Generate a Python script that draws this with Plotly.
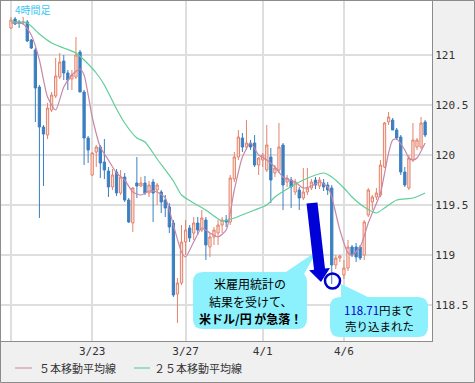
import plotly.graph_objects as go
import numpy as np

# ---------------- data (4-hour USD/JPY candles) ----------------
opens = [121.27, 121.36, 121.33, 121.32, 121.33, 121.15, 121.05, 120.68, 120.28, 120.20,
         120.45, 120.59, 120.78, 120.94, 120.82, 120.76, 120.78, 121.03, 120.63, 120.17,
         119.80, 120.03, 120.08, 119.93, 119.84, 119.68, 119.83, 119.62, 119.78, 119.55,
         119.32, 119.72, 119.69, 119.72, 119.62, 119.73, 119.65, 119.63, 119.55, 119.48,
         119.32, 118.61, 118.72, 119.13, 119.27, 119.22, 119.32, 119.25, 119.35, 119.08,
         119.18, 119.22, 119.30, 119.35, 119.33, 119.76, 119.98, 120.17, 120.08, 120.12,
         120.12, 119.90, 119.95, 119.85, 119.98, 119.82, 119.85, 120.10, 119.73, 119.75,
         119.63, 119.65, 119.57, 119.63, 119.67, 119.75, 119.69, 119.72, 119.70, 119.67,
         118.90, 118.97, 118.80, 118.87, 119.08, 119.08, 119.08, 119.00, 119.40, 119.53,
         119.58, 119.60, 119.88, 120.33, 120.35, 120.25, 120.18, 119.83, 119.67, 119.95,
         120.08, 120.08, 120.33]
highs = [121.38, 121.38, 121.35, 121.38, 121.35, 121.16, 121.07, 120.70, 120.30, 120.52,
         120.63, 120.97, 121.02, 121.00, 120.85, 120.85, 121.18, 121.05, 120.65, 120.19,
         120.03, 120.10, 120.10, 120.16, 119.88, 119.86, 119.86, 119.85, 119.82, 119.57,
         119.68, 119.98, 119.78, 119.79, 119.74, 119.76, 119.72, 119.65, 119.60, 119.52,
         119.35, 118.77, 119.30, 119.35, 119.30, 119.38, 119.38, 119.45, 119.38, 119.22,
         119.28, 119.35, 119.38, 119.40, 119.80, 120.03, 120.25, 120.22, 120.35, 120.15,
         120.20, 119.98, 120.02, 120.30, 120.07, 119.90, 120.32, 120.12, 119.80, 119.78,
         119.76, 119.68, 119.87, 119.87, 119.76, 119.78, 119.78, 119.76, 119.73, 119.70,
         119.00, 119.00, 118.95, 119.15, 119.10, 119.12, 119.10, 119.35, 119.67, 119.60,
         119.67, 119.95, 120.33, 120.43, 120.37, 120.27, 120.20, 119.88, 120.00, 120.32,
         120.17, 120.38, 120.35]
lows = [121.26, 121.30, 121.27, 121.30, 121.13, 121.06, 120.33, 119.37, 119.69, 120.16,
        120.43, 120.57, 120.76, 120.75, 120.65, 120.65, 120.76, 120.63, 119.90, 119.92,
        119.79, 119.88, 119.77, 119.76, 119.58, 119.65, 119.59, 119.60, 119.53, 119.32,
        119.23, 119.57, 119.68, 119.60, 119.58, 119.33, 119.50, 119.42, 119.38, 119.22,
        118.58, 118.32, 118.70, 119.00, 119.13, 119.15, 119.20, 119.23, 118.95, 118.98,
        119.10, 119.10, 119.22, 119.28, 119.30, 119.73, 119.95, 120.03, 120.05, 120.05,
        119.88, 119.80, 119.88, 119.83, 119.52, 119.78, 119.82, 119.45, 119.68, 119.47,
        119.60, 119.45, 119.55, 119.60, 119.65, 119.66, 119.66, 119.64, 119.60, 118.71,
        118.86, 118.93, 118.76, 118.84, 118.98, 118.93, 118.95, 118.95, 119.38, 119.45,
        119.55, 119.58, 119.87, 120.30, 120.25, 120.15, 119.80, 119.68, 119.65, 119.93,
        120.05, 120.06, 120.18]
closes = [121.35, 121.31, 121.32, 121.33, 121.14, 121.07, 120.67, 120.28, 120.21, 120.47,
          120.60, 120.79, 120.93, 120.82, 120.75, 120.80, 121.00, 120.63, 120.17, 120.05,
          120.02, 120.08, 119.92, 119.85, 119.68, 119.80, 119.62, 119.78, 119.55, 119.33,
          119.67, 119.69, 119.72, 119.62, 119.70, 119.62, 119.70, 119.53, 119.47, 119.28,
          118.60, 118.72, 119.13, 119.25, 119.17, 119.32, 119.25, 119.37, 119.10, 119.18,
          119.25, 119.30, 119.35, 119.33, 119.77, 119.98, 120.18, 120.08, 120.12, 120.08,
          119.90, 119.97, 120.00, 120.10, 119.75, 119.87, 120.08, 119.70, 119.77, 119.68,
          119.73, 119.57, 119.63, 119.67, 119.73, 119.70, 119.75, 119.68, 119.65, 118.90,
          118.97, 118.99, 118.87, 119.08, 119.00, 118.98, 118.97, 119.33, 119.65, 119.58,
          119.62, 119.90, 120.32, 120.38, 120.25, 120.17, 119.83, 119.70, 119.97, 120.15,
          120.15, 120.32, 120.20]
bars = list(range(len(opens)))

ma5_bars = [0, 3, 5, 7, 9, 11, 13, 15, 17, 18, 20, 22, 24, 26, 28, 30, 32, 34, 36, 38,
            40, 42, 43, 45, 47, 49, 51, 53, 55, 57, 59, 61, 63, 65, 67, 68, 70, 72, 74, 76,
            78, 79, 81, 83, 84, 86, 88, 89, 91, 93, 94, 95, 97, 98, 99, 100, 102]
ma5_vals = [121.32, 121.31, 121.20, 120.95, 120.58, 120.45, 120.68, 120.80, 120.86, 120.80,
            120.38, 120.08, 119.95, 119.82, 119.75, 119.63, 119.60, 119.64, 119.63, 119.57,
            119.30, 119.03, 118.98, 119.13, 119.27, 119.22, 119.18, 119.25, 119.65, 119.98,
            120.12, 120.00, 119.95, 119.88, 119.78, 119.76, 119.73, 119.67, 119.69, 119.73,
            119.68, 119.58, 119.25, 119.02, 119.00, 119.08, 119.32, 119.42, 119.62, 120.02,
            120.15, 120.16, 120.05, 119.97, 119.95, 119.97, 120.12]

ma25_bars = [0, 4, 7, 10, 13, 16, 18, 21, 23, 26, 28, 31, 33, 36, 40, 42, 45, 48, 52, 55,
             60, 63, 65, 68, 72, 77, 79, 82, 84, 87, 90, 92, 95, 99, 102]
ma25_vals = [121.33, 121.32, 121.21, 121.12, 121.07, 121.02, 120.95, 120.82, 120.70, 120.46,
             120.32, 120.17, 120.13, 119.96, 119.74, 119.60, 119.52, 119.45, 119.34, 119.37,
             119.45, 119.50, 119.58, 119.66, 119.75, 119.82, 119.78, 119.67, 119.58, 119.48,
             119.42, 119.47, 119.55, 119.57, 119.62]

x_tick_bars = [0, 20, 43, 62, 82]
x_tick_labels = ["", "3/23", "3/27", "4/1", "4/6"]
y_tick_vals = [118.5, 119.0, 119.5, 120.0, 120.5, 121.0]
y_tick_labels = ["118.5", "119", "119.5", "120", "120.5", "121"]

legend_names = ["５本移動平均線", "２５本移動平均線"]
low_label = "118.71"

# ---------------- layout helpers ----------------
W, H = 475, 383
ML, MR, MT, MB = 1, 43, 1, 42
PW, PH = W - ML - MR, H - MT - MB


def px(x):
    return (x - ML) / PW


def py(y):
    return 1 - (y - MT) / PH


BAR_PX = 4.06        # pixels per bar
BAR0_PX = 11         # pixel of bar 0
PRICE_REF, PRICE_REF_PX, PX_PER_UNIT = 121.0, 55, 100
x_range = [-(BAR0_PX - ML) / BAR_PX, (ML + PW - BAR0_PX) / BAR_PX]
y_range = [PRICE_REF - (MT + PH - PRICE_REF_PX) / PX_PER_UNIT,
           PRICE_REF + (PRICE_REF_PX - MT) / PX_PER_UNIT]

fig = go.Figure()
fig.add_trace(go.Candlestick(
    x=bars, open=opens, high=highs, low=lows, close=closes,
    increasing=dict(line=dict(color="#e5826a", width=1), fillcolor="#fde3db"),
    decreasing=dict(line=dict(color="#3b7fc1", width=1), fillcolor="#3b7fc1"),
    whiskerwidth=0, showlegend=False, name="USD/JPY"))
fig.add_trace(go.Scatter(x=ma5_bars, y=ma5_vals, mode="lines", name=legend_names[0],
                         line=dict(color="#c987a8", width=1.2, shape="spline", smoothing=0.6),
                         showlegend=False))
fig.add_trace(go.Scatter(x=ma25_bars, y=ma25_vals, mode="lines", name=legend_names[1],
                         line=dict(color="#5fcf98", width=1.2, shape="spline", smoothing=0.6),
                         showlegend=False))

BOX = "#8cf0fd"
BLUE = "#0000cc"


def rrect(x0, y0, x1, y1, r):
    return (f"M {px(x0 + r)},{py(y0)} L {px(x1 - r)},{py(y0)} Q {px(x1)},{py(y0)} {px(x1)},{py(y0 + r)} "
            f"L {px(x1)},{py(y1 - r)} Q {px(x1)},{py(y1)} {px(x1 - r)},{py(y1)} "
            f"L {px(x0 + r)},{py(y1)} Q {px(x0)},{py(y1)} {px(x0)},{py(y1 - r)} "
            f"L {px(x0)},{py(y0 + r)} Q {px(x0)},{py(y0)} {px(x0 + r)},{py(y0)} Z")


def poly(pts):
    s = "M " + " L ".join(f"{px(a)},{py(b)}" for a, b in pts) + " Z"
    return s


# arrow polygon
T = np.array([312.0, 203.0])
P = np.array([321.0, 282.0])
u = (P - T) / np.linalg.norm(P - T)
n = np.array([u[1], -u[0]])
N = P - 13 * u
sw, hw = 5.5, 10.5
arrow_pts = [T - n * sw, T + n * sw, N + n * sw, N + n * hw, P, N - n * hw, N - n * sw]

shapes = [
    dict(type="path", path=rrect(193, 272, 307, 329, 10), xref="paper", yref="paper",
         fillcolor=BOX, line=dict(width=0), layer="above"),
    dict(type="path", path=poly([(283, 274), (304, 274), (317, 251)]), xref="paper", yref="paper",
         fillcolor=BOX, line=dict(width=0), layer="above"),
    dict(type="path", path=rrect(330, 297, 428, 337, 10), xref="paper", yref="paper",
         fillcolor=BOX, line=dict(width=0), layer="above"),
    dict(type="path", path=poly([(341, 284), (341, 299), (372, 299)]), xref="paper", yref="paper",
         fillcolor=BOX, line=dict(width=0), layer="above"),
    dict(type="path", path=poly([tuple(p) for p in arrow_pts]), xref="paper", yref="paper",
         fillcolor="#0000d8", line=dict(width=0), layer="above"),
    dict(type="circle", xref="paper", yref="paper", x0=px(325), x1=px(340), y0=py(288.5), y1=py(273.5),
         line=dict(color=BLUE, width=2.5), fillcolor="rgba(0,0,0,0)", layer="above"),
    # outer frame
    dict(type="rect", xref="paper", yref="paper", x0=px(0.5), x1=px(474.5), y0=py(382.5), y1=py(0.5),
         line=dict(color="#8c8c8c", width=1), fillcolor="rgba(0,0,0,0)", layer="above"),
    # legend samples
    dict(type="line", xref="paper", yref="paper", x0=px(15), x1=px(32), y0=py(368), y1=py(368),
         line=dict(color="#d9a6c0", width=1.5)),
    dict(type="line", xref="paper", yref="paper", x0=px(134), x1=px(150), y0=py(368), y1=py(368),
         line=dict(color="#7fdab0", width=1.5)),
]

JP = "Noto Sans CJK JP"
annotations = [
    dict(text="4時間足", x=px(13), y=py(9), xanchor="left", yanchor="middle",
         font=dict(family=JP, size=10, color="#3cc6f2")),
    dict(text="米雇用統計の", x=px(250), y=py(283), font=dict(family=JP, size=12, color="#000")),
    dict(text="結果を受けて、", x=px(250), y=py(301), font=dict(family=JP, size=12, color="#000")),
    dict(text="<b>米ドル/円 が急落！</b>", x=px(250), y=py(318), font=dict(family=JP, size=12, color="#000")),
    dict(text=f"<span style='color:{BLUE}'>{low_label}</span>円まで", x=px(379), y=py(310),
         font=dict(family=JP, size=11.5, color="#000")),
    dict(text="売り込まれた", x=px(379), y=py(326), font=dict(family=JP, size=11.5, color="#000")),
    dict(text=legend_names[0], x=px(37), y=py(368), xanchor="left",
         font=dict(family=JP, size=11, color="#333")),
    dict(text=legend_names[1], x=px(152), y=py(368), xanchor="left",
         font=dict(family=JP, size=11, color="#333")),
]
for a in annotations:
    a.update(xref="paper", yref="paper", showarrow=False)
    a.setdefault("xanchor", "center")
    a.setdefault("yanchor", "middle")

MONO = "DejaVu Sans Mono"
fig.update_layout(
    width=W, height=H,
    margin=dict(l=ML, r=MR, t=MT, b=MB, pad=0),
    paper_bgcolor="#f0f0f0", plot_bgcolor="#ffffff",
    showlegend=False, boxgap=0.2,
    shapes=shapes, annotations=annotations,
    xaxis=dict(range=x_range, tickvals=x_tick_bars, ticktext=x_tick_labels,
               showgrid=True, gridcolor="#dedede", gridwidth=1.5, zeroline=False,
               showline=True, mirror=True, linecolor="#8c8c8c", linewidth=1, ticks="",
               tickfont=dict(family=MONO, size=11, color="#333"),
               rangeslider=dict(visible=False), fixedrange=True),
    yaxis=dict(range=y_range, side="right", tickvals=y_tick_vals, ticktext=y_tick_labels,
               showgrid=True, gridcolor="#dedede", gridwidth=1.5, zeroline=False,
               showline=True, mirror=True, linecolor="#8c8c8c", linewidth=1, ticks="",
               tickfont=dict(family=MONO, size=11, color="#333"), fixedrange=True),
)

fig.write_html("out.html", config={"displayModeBar": False},
               post_script="document.body.style.margin='0';")
